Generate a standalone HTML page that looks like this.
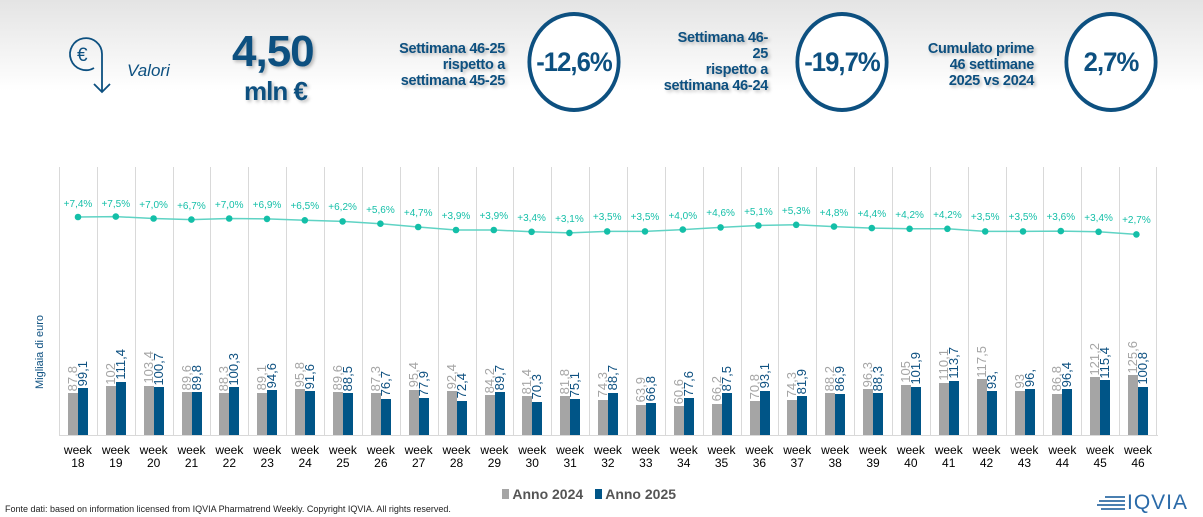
<!DOCTYPE html>
<html><head><meta charset="utf-8">
<style>
*{margin:0;padding:0;box-sizing:border-box}
body{width:1203px;height:517px;overflow:hidden;font-family:"Liberation Sans",sans-serif;background:#fff;position:relative}
.hdr{position:absolute;left:0;top:0;width:1203px;height:130px;background:linear-gradient(#e4e4e4,#fff 70%)}
.b{position:absolute;font-weight:bold;color:#0d5080;text-shadow:2px 2px 3px rgba(0,0,0,.25)}
.circ{position:absolute;width:98px;height:100px;border:4px solid #0d5080;border-radius:50%;background:#fff;display:flex;align-items:center;justify-content:center;font-weight:bold;color:#0d5080;font-size:27px;letter-spacing:-1px;transform:scaleX(.95)}
.col{position:absolute;top:167px;height:268px;width:37.86px;border-left:1px solid #d9d9d9}
.col:last-child{border-right:1px solid #d9d9d9}
.g,.u{position:absolute;bottom:0;width:10px}
.g{left:8px;background:#a5a5a5;height:calc(var(--a)*0.476px)}
.u{left:18px;background:#005587;height:calc(var(--b)*0.476px)}
.lg,.lu{position:absolute;writing-mode:vertical-rl;transform:rotate(180deg);font-size:13px;line-height:11px;white-space:nowrap}
.lg{left:7px;color:#a5a5a5;bottom:calc(var(--a)*0.476px + 2px)}
.lu{left:17px;color:#0d5080;bottom:calc(var(--b)*0.476px + 2px)}
.wk{position:absolute;top:444px;width:37.86px;text-align:center;font-size:12px;line-height:13px;color:#000}
</style></head><body>
<div class="hdr"></div>
<svg style="position:absolute;left:66px;top:30px" width="50" height="66" viewBox="0 0 50 66">
<path d="M36 62 L36 24 A16 16 0 1 0 28 38" fill="none" stroke="#0d5080" stroke-width="1.8"/>
<path d="M28 54 L36 62 L44 54" fill="none" stroke="#0d5080" stroke-width="1.8"/>
<text x="11" y="31" font-size="19" fill="#0d5080" font-family="Liberation Sans">€</text>
</svg>
<div style="position:absolute;left:127px;top:61px;font-size:17px;font-style:italic;color:#0d5080">Valori</div>
<div class="b" style="left:232px;top:27px;font-size:44px;letter-spacing:-1px">4,50</div>
<div class="b" style="left:244px;top:76px;font-size:26px;letter-spacing:-1px">mln €</div>
<div class="b" style="left:380px;top:41px;width:125px;text-align:right;font-size:14.5px;line-height:16px;letter-spacing:-0.3px">Settimana 46-25<br>rispetto a<br>settimana 45-25</div>
<div class="circ" style="left:525px;top:12px">-12,6%</div>
<div class="b" style="left:640px;top:30px;width:128px;text-align:right;font-size:14.5px;line-height:16px;letter-spacing:-0.3px">Settimana 46-<br>25<br>rispetto a<br>settimana 46-24</div>
<div class="circ" style="left:793px;top:12px">-19,7%</div>
<div class="b" style="left:910px;top:41px;width:124px;text-align:right;font-size:14.5px;line-height:16px;letter-spacing:-0.3px">Cumulato prime<br>46 settimane<br>2025 vs 2024</div>
<div class="circ" style="left:1062px;top:12px">2,7%</div>

<div style="position:absolute;left:33px;top:352px;transform:translate(-50%,-50%) rotate(-90deg);font-size:11px;color:#0d5080;white-space:nowrap;margin-left:7px">Migliaia di euro</div>

<div>
<div class="col" style="left:59.0px;--a:87.8;--b:99.1"><div class="g"></div><div class="u"></div><span class="lg">87,8</span><span class="lu">99,1</span></div>
<div class="col" style="left:96.9px;--a:102;--b:111.4"><div class="g"></div><div class="u"></div><span class="lg">102</span><span class="lu">111,4</span></div>
<div class="col" style="left:134.7px;--a:103.4;--b:100.7"><div class="g"></div><div class="u"></div><span class="lg">103,4</span><span class="lu">100,7</span></div>
<div class="col" style="left:172.6px;--a:89.6;--b:89.8"><div class="g"></div><div class="u"></div><span class="lg">89,6</span><span class="lu">89,8</span></div>
<div class="col" style="left:210.4px;--a:88.3;--b:100.3"><div class="g"></div><div class="u"></div><span class="lg">88,3</span><span class="lu">100,3</span></div>
<div class="col" style="left:248.3px;--a:89.1;--b:94.6"><div class="g"></div><div class="u"></div><span class="lg">89,1</span><span class="lu">94,6</span></div>
<div class="col" style="left:286.2px;--a:95.8;--b:91.6"><div class="g"></div><div class="u"></div><span class="lg">95,8</span><span class="lu">91,6</span></div>
<div class="col" style="left:324.0px;--a:89.6;--b:88.5"><div class="g"></div><div class="u"></div><span class="lg">89,6</span><span class="lu">88,5</span></div>
<div class="col" style="left:361.9px;--a:87.3;--b:76.7"><div class="g"></div><div class="u"></div><span class="lg">87,3</span><span class="lu">76,7</span></div>
<div class="col" style="left:399.7px;--a:95.4;--b:77.9"><div class="g"></div><div class="u"></div><span class="lg">95,4</span><span class="lu">77,9</span></div>
<div class="col" style="left:437.6px;--a:92.4;--b:72.4"><div class="g"></div><div class="u"></div><span class="lg">92,4</span><span class="lu">72,4</span></div>
<div class="col" style="left:475.5px;--a:84.2;--b:89.7"><div class="g"></div><div class="u"></div><span class="lg">84,2</span><span class="lu">89,7</span></div>
<div class="col" style="left:513.3px;--a:81.4;--b:70.3"><div class="g"></div><div class="u"></div><span class="lg">81,4</span><span class="lu">70,3</span></div>
<div class="col" style="left:551.2px;--a:81.8;--b:75.1"><div class="g"></div><div class="u"></div><span class="lg">81,8</span><span class="lu">75,1</span></div>
<div class="col" style="left:589.0px;--a:74.3;--b:88.7"><div class="g"></div><div class="u"></div><span class="lg">74,3</span><span class="lu">88,7</span></div>
<div class="col" style="left:626.9px;--a:63.9;--b:66.8"><div class="g"></div><div class="u"></div><span class="lg">63,9</span><span class="lu">66,8</span></div>
<div class="col" style="left:664.8px;--a:60.6;--b:77.6"><div class="g"></div><div class="u"></div><span class="lg">60,6</span><span class="lu">77,6</span></div>
<div class="col" style="left:702.6px;--a:66.2;--b:87.5"><div class="g"></div><div class="u"></div><span class="lg">66,2</span><span class="lu">87,5</span></div>
<div class="col" style="left:740.5px;--a:70.8;--b:93.1"><div class="g"></div><div class="u"></div><span class="lg">70,8</span><span class="lu">93,1</span></div>
<div class="col" style="left:778.3px;--a:74.3;--b:81.9"><div class="g"></div><div class="u"></div><span class="lg">74,3</span><span class="lu">81,9</span></div>
<div class="col" style="left:816.2px;--a:88.2;--b:86.9"><div class="g"></div><div class="u"></div><span class="lg">88,2</span><span class="lu">86,9</span></div>
<div class="col" style="left:854.1px;--a:96.3;--b:88.3"><div class="g"></div><div class="u"></div><span class="lg">96,3</span><span class="lu">88,3</span></div>
<div class="col" style="left:891.9px;--a:105;--b:101.9"><div class="g"></div><div class="u"></div><span class="lg">105</span><span class="lu">101,9</span></div>
<div class="col" style="left:929.8px;--a:110.1;--b:113.7"><div class="g"></div><div class="u"></div><span class="lg">110,1</span><span class="lu">113,7</span></div>
<div class="col" style="left:967.6px;--a:117.5;--b:93"><div class="g"></div><div class="u"></div><span class="lg">117,5</span><span class="lu">93,</span></div>
<div class="col" style="left:1005.5px;--a:93;--b:96"><div class="g"></div><div class="u"></div><span class="lg">93</span><span class="lu">96,</span></div>
<div class="col" style="left:1043.4px;--a:86.8;--b:96.4"><div class="g"></div><div class="u"></div><span class="lg">86,8</span><span class="lu">96,4</span></div>
<div class="col" style="left:1081.2px;--a:121.2;--b:115.4"><div class="g"></div><div class="u"></div><span class="lg">121,2</span><span class="lu">115,4</span></div>
<div class="col" style="left:1119.1px;--a:125.6;--b:100.8"><div class="g"></div><div class="u"></div><span class="lg">125,6</span><span class="lu">100,8</span></div>
</div>
<div style="position:absolute;left:59px;top:435px;width:1099px;height:1px;background:#d9d9d9"></div>

<svg style="position:absolute;left:0;top:0" width="1203" height="300">
<polyline fill="none" stroke="#5fd3c4" stroke-width="1.5" points="78,217 115.8,216.6 153.6,218.5 191.4,219.6 229.2,218.5 267,218.9 304.8,220.3 342.6,221.4 380.4,223.7 418.2,227 456,230 493.8,230 531.6,231.8 569.4,232.9 607.2,231.4 645,231.4 682.8,229.6 720.6,227.4 758.4,225.5 796.2,224.8 834,226.6 871.8,228.1 909.6,228.8 947.4,228.8 985.2,231.4 1023,231.4 1060.8,231.1 1098.6,231.8 1136.4,234.4"/>
<g fill="#14bfa8">
<circle cx="78" cy="217" r="3.3"/><circle cx="115.8" cy="216.6" r="3.3"/><circle cx="153.6" cy="218.5" r="3.3"/><circle cx="191.4" cy="219.6" r="3.3"/><circle cx="229.2" cy="218.5" r="3.3"/><circle cx="267" cy="218.9" r="3.3"/><circle cx="304.8" cy="220.3" r="3.3"/><circle cx="342.6" cy="221.4" r="3.3"/><circle cx="380.4" cy="223.7" r="3.3"/><circle cx="418.2" cy="227" r="3.3"/><circle cx="456" cy="230" r="3.3"/><circle cx="493.8" cy="230" r="3.3"/><circle cx="531.6" cy="231.8" r="3.3"/><circle cx="569.4" cy="232.9" r="3.3"/><circle cx="607.2" cy="231.4" r="3.3"/><circle cx="645" cy="231.4" r="3.3"/><circle cx="682.8" cy="229.6" r="3.3"/><circle cx="720.6" cy="227.4" r="3.3"/><circle cx="758.4" cy="225.5" r="3.3"/><circle cx="796.2" cy="224.8" r="3.3"/><circle cx="834" cy="226.6" r="3.3"/><circle cx="871.8" cy="228.1" r="3.3"/><circle cx="909.6" cy="228.8" r="3.3"/><circle cx="947.4" cy="228.8" r="3.3"/><circle cx="985.2" cy="231.4" r="3.3"/><circle cx="1023" cy="231.4" r="3.3"/><circle cx="1060.8" cy="231.1" r="3.3"/><circle cx="1098.6" cy="231.8" r="3.3"/><circle cx="1136.4" cy="234.4" r="3.3"/>
</g>
<g fill="#14bfa8" font-size="10" font-family="Liberation Sans" text-anchor="middle">
<text x="78" y="207">+7,4%</text><text x="115.8" y="207">+7,5%</text><text x="153.6" y="208">+7,0%</text><text x="191.4" y="209">+6,7%</text><text x="229.2" y="208">+7,0%</text><text x="267" y="208">+6,9%</text><text x="304.8" y="209">+6,5%</text><text x="342.6" y="210">+6,2%</text><text x="380.4" y="213">+5,6%</text><text x="418.2" y="216">+4,7%</text><text x="456" y="219">+3,9%</text><text x="493.8" y="219">+3,9%</text><text x="531.6" y="221">+3,4%</text><text x="569.4" y="222">+3,1%</text><text x="607.2" y="220">+3,5%</text><text x="645" y="220">+3,5%</text><text x="682.8" y="219">+4,0%</text><text x="720.6" y="216">+4,6%</text><text x="758.4" y="215">+5,1%</text><text x="796.2" y="214">+5,3%</text><text x="834" y="216">+4,8%</text><text x="871.8" y="217">+4,4%</text><text x="909.6" y="218">+4,2%</text><text x="947.4" y="218">+4,2%</text><text x="985.2" y="220">+3,5%</text><text x="1023" y="220">+3,5%</text><text x="1060.8" y="220">+3,6%</text><text x="1098.6" y="221">+3,4%</text><text x="1136.4" y="223">+2,7%</text>
</g>
</svg>

<div class="wk" style="left:59.0px">week<br>18</div><div class="wk" style="left:96.9px">week<br>19</div><div class="wk" style="left:134.7px">week<br>20</div><div class="wk" style="left:172.6px">week<br>21</div><div class="wk" style="left:210.4px">week<br>22</div><div class="wk" style="left:248.3px">week<br>23</div><div class="wk" style="left:286.2px">week<br>24</div><div class="wk" style="left:324.0px">week<br>25</div><div class="wk" style="left:361.9px">week<br>26</div><div class="wk" style="left:399.7px">week<br>27</div><div class="wk" style="left:437.6px">week<br>28</div><div class="wk" style="left:475.5px">week<br>29</div><div class="wk" style="left:513.3px">week<br>30</div><div class="wk" style="left:551.2px">week<br>31</div><div class="wk" style="left:589.0px">week<br>32</div><div class="wk" style="left:626.9px">week<br>33</div><div class="wk" style="left:664.8px">week<br>34</div><div class="wk" style="left:702.6px">week<br>35</div><div class="wk" style="left:740.5px">week<br>36</div><div class="wk" style="left:778.3px">week<br>37</div><div class="wk" style="left:816.2px">week<br>38</div><div class="wk" style="left:854.1px">week<br>39</div><div class="wk" style="left:891.9px">week<br>40</div><div class="wk" style="left:929.8px">week<br>41</div><div class="wk" style="left:967.6px">week<br>42</div><div class="wk" style="left:1005.5px">week<br>43</div><div class="wk" style="left:1043.4px">week<br>44</div><div class="wk" style="left:1081.2px">week<br>45</div><div class="wk" style="left:1119.1px">week<br>46</div>

<div style="position:absolute;left:502px;top:486px;font-size:14px;font-weight:bold;color:#555;white-space:nowrap">
<span style="display:inline-block;width:7px;height:10px;background:#a5a5a5"></span> Anno 2024&nbsp;&nbsp;&nbsp;<span style="display:inline-block;width:7px;height:10px;background:#005587"></span> Anno 2025</div>
<div style="position:absolute;left:5px;top:504px;font-size:9px;color:#222">Fonte dati: based on information licensed from IQVIA Pharmatrend Weekly. Copyright IQVIA. All rights reserved.</div>
<svg style="position:absolute;left:1097px;top:494px" width="30" height="20">
<g fill="#4a7fb0"><rect x="8" y="2" width="20" height="2"/><rect x="2" y="6" width="26" height="2"/><rect x="0" y="10" width="28" height="2"/><rect x="4" y="14" width="24" height="2"/></g></svg>
<div style="position:absolute;left:1127px;top:491px;font-size:21px;color:#2a6aa8;letter-spacing:1px">IQVIA</div>
</body></html>
